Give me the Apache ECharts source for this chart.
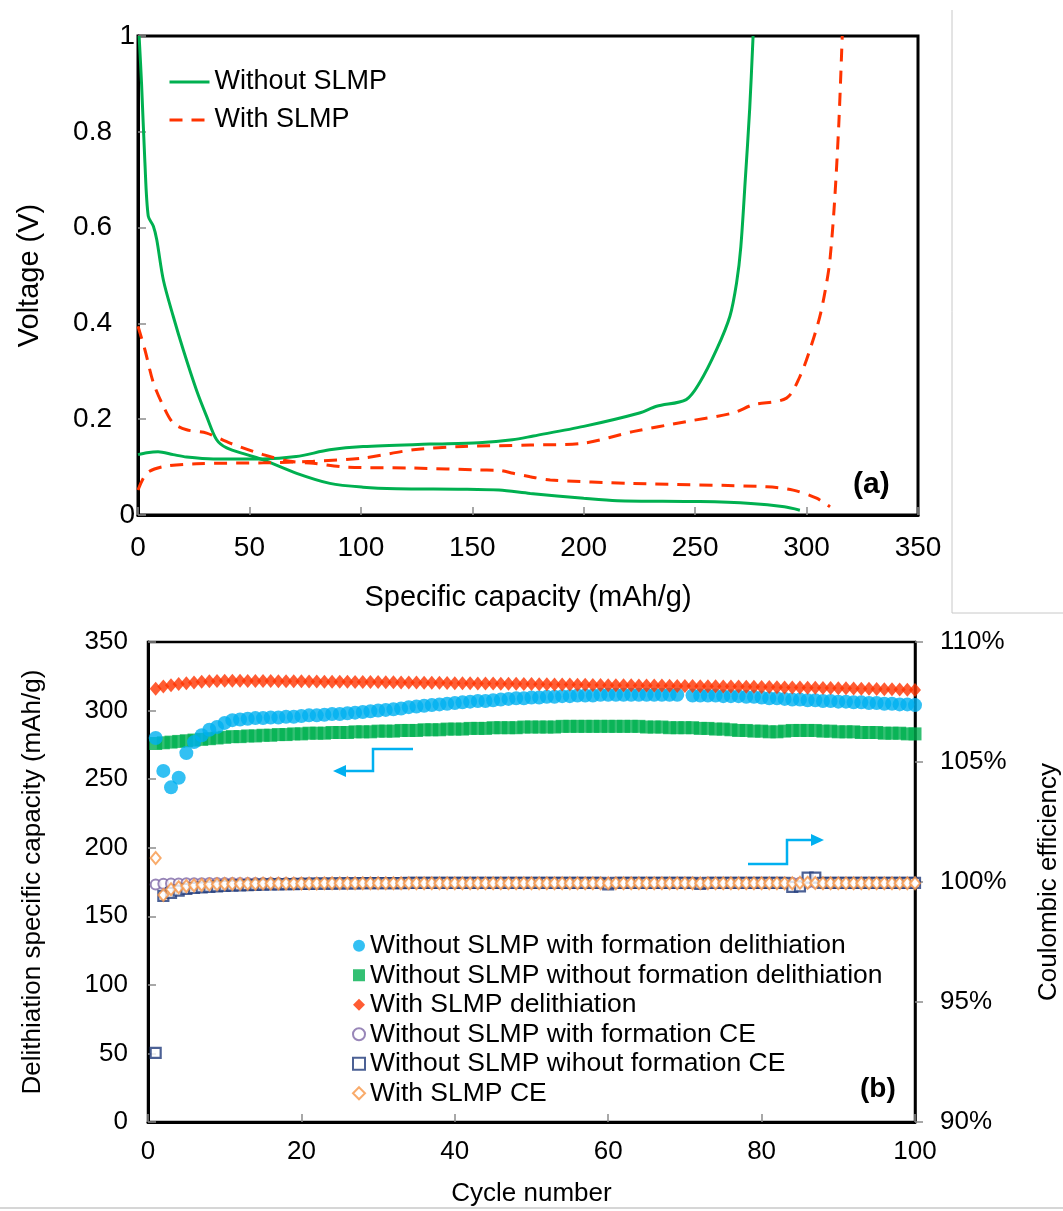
<!DOCTYPE html>
<html>
<head>
<meta charset="utf-8">
<script src="https://cdn.jsdelivr.net/npm/echarts@6/dist/echarts.min.js"></script>
<style>
html, body { margin: 0; padding: 0; background: #fff; }
#chart { width: 1063px; height: 1211px; }
</style>
</head>
<body>
<div id="chart"></div>
<script>
// (a) voltage profiles, capacity in mAh/g and voltage in V
const noSlmpLithCap = [0.5, 1.6, 3.1, 4.6, 6.9, 8.4, 11.4, 15.8, 20.3, 26.3, 30.8, 35.3, 39.8, 48.8, 56.2, 71.2, 86.1, 101, 116, 146, 162, 176, 200, 215, 252, 275, 290, 297]
const noSlmpLithV = [1, 0.9, 0.736, 0.624, 0.603, 0.575, 0.49, 0.415, 0.345, 0.26, 0.206, 0.157, 0.14, 0.126, 0.115, 0.087, 0.066, 0.058, 0.055, 0.054, 0.052, 0.045, 0.035, 0.030, 0.028, 0.024, 0.017, 0.010]
const noSlmpDelithCap = [0, 4, 9, 15.8, 21.8, 33.8, 56, 71, 86, 101, 131, 153, 168, 177.4, 200, 225, 232.7, 246, 252, 259.6, 265.6, 268.6, 270.5, 272.5, 274.5, 276]
const noSlmpDelithV = [0.126, 0.13, 0.132, 0.126, 0.121, 0.117, 0.117, 0.122, 0.136, 0.143, 0.148, 0.151, 0.157, 0.165, 0.185, 0.213, 0.227, 0.241, 0.276, 0.345, 0.415, 0.485, 0.56, 0.7, 0.85, 1]
const slmpLithCap = [0, 3.1, 6.9, 11.4, 15.8, 21.8, 30.8, 41.3, 56.2, 68.2, 78.7, 93.6, 123.5, 153.5, 162.4, 168.4, 176, 185, 222, 282, 294, 304.5, 310.5]
const slmpLithV = [0.394, 0.345, 0.276, 0.227, 0.192, 0.178, 0.171, 0.15, 0.126, 0.112, 0.108, 0.1, 0.098, 0.094, 0.093, 0.087, 0.08, 0.073, 0.066, 0.059, 0.052, 0.035, 0.017]
const slmpDelithCap = [0, 3.9, 11.4, 26.3, 56.2, 78.7, 101, 123.5, 146, 176, 200, 222, 246, 267, 276, 291, 297, 301.5, 306, 309, 310.5, 312.5, 314.5, 316]
const slmpDelithV = [0.052, 0.087, 0.101, 0.107, 0.109, 0.112, 0.119, 0.136, 0.143, 0.146, 0.15, 0.174, 0.195, 0.213, 0.23, 0.244, 0.289, 0.345, 0.415, 0.485, 0.533, 0.65, 0.82, 1]
// voltage labels that sit right against the axis in the original
const edgeVoltLabels = [0, 1]

// (b) cycling, capacity in mAh/g, CE in %
const cycles = Array.from({ length: 100 }, (_, i) => i + 1)
const noSlmpFormDelith = [
    280, 256, 244, 251, 269, 277, 282, 286, 288, 291,
    293, 293.5, 294, 294.5, 294.5, 295, 295, 295.5, 295.5, 296,
    296.5, 296.5, 297, 297.5, 297.5, 298, 298.5, 299, 299.5, 300,
    300.5, 301, 301.5, 302.5, 303, 303.5, 304, 304.5, 305, 305.5,
    306, 306.5, 307, 307, 307.5, 308, 308.5, 309, 309, 309.5,
    309.5, 310, 310, 310.5, 310.5, 311, 311, 311, 311.5, 311.5,
    311.5, 311.5, 311.5, 311.5, 311.5, 311.5, 311.5, 311.5, 311.5, null,
    311, 311, 311, 311, 310.5, 310.5, 310.5, 310, 310, 309.5,
    309, 309, 308.5, 308, 308, 307.5, 307.5, 307, 307, 306.5,
    306.5, 306, 306, 305.5, 305.5, 305, 305, 304.5, 304.5, 304
]
const noSlmpNoFormDelith = [
    276, 276.5, 277, 277.5, 278, 278.5, 279, 279.5, 280, 280.5,
    281, 281, 281.5, 281.5, 282, 282, 282.5, 282.5, 283, 283,
    283.5, 283.5, 283.5, 284, 284, 284, 284.5, 284.5, 284.5, 285,
    285, 285, 285.5, 285.5, 285.5, 286, 286, 286, 286.5, 286.5,
    286.5, 287, 287, 287, 287.5, 287.5, 287.5, 287.5, 288, 288,
    288, 288, 288, 288.5, 288.5, 288.5, 288.5, 288.5, 288.5, 288.5,
    288.5, 288.5, 288.5, 288.5, 288, 288, 288, 287.5, 287.5, 287.5,
    287.5, 287, 287, 286.5, 286.5, 286, 285.5, 285.5, 285, 285,
    284.5, 284.5, 285, 285.5, 285.5, 285.5, 285.5, 285, 285, 284.5,
    284.5, 284.5, 284, 284, 284, 283.5, 283.5, 283.5, 283, 283
]
const slmpDelith = [
    316, 317.5, 318.5, 319.3, 320, 320.5, 321, 321.3, 321.5, 321.7,
    321.7, 321.7, 321.6, 321.6, 321.5, 321.5, 321.4, 321.4, 321.3, 321.3,
    321.2, 321.2, 321.1, 321.1, 321, 321, 320.9, 320.9, 320.8, 320.8,
    320.7, 320.6, 320.5, 320.5, 320.4, 320.3, 320.3, 320.2, 320.1, 320,
    320, 319.9, 319.8, 319.8, 319.7, 319.6, 319.5, 319.5, 319.4, 319.3,
    319.2, 319.2, 319.1, 319, 319, 318.9, 318.8, 318.7, 318.6, 318.5,
    318.5, 318.4, 318.4, 318.3, 318.3, 318.2, 318.2, 318.1, 318, 318,
    317.9, 317.8, 317.8, 317.7, 317.6, 317.5, 317.5, 317.4, 317.3, 317.2,
    317.1, 317, 316.9, 316.8, 316.8, 316.7, 316.6, 316.5, 316.4, 316.3,
    316.2, 316.1, 316, 315.9, 315.8, 315.6, 315.5, 315.4, 315.2, 315
]
const noSlmpFormCE = [
    99.90, 99.93, 99.94, 99.94, 99.95, 99.95, 99.95, 99.96, 99.96, 99.96,
    99.96, 99.96, 99.96, 99.96, 99.96, 99.96, 99.96, 99.96, 99.96, 99.96,
    99.96, 99.96, 99.96, 99.96, 99.96, 99.97, 99.97, 99.97, 99.97, 99.97,
    99.97, 99.97, 99.97, 99.97, 99.97, 99.97, 99.97, 99.97, 99.97, 99.97,
    99.97, 99.97, 99.97, 99.97, 99.97, 99.97, 99.97, 99.97, 99.97, 99.97,
    99.97, 99.97, 99.97, 99.97, 99.97, 99.97, 99.97, 99.97, 99.97, 99.97,
    99.97, 99.97, 99.97, 99.97, 99.97, 99.97, 99.97, 99.97, 99.97, 99.97,
    99.97, 99.97, 99.97, 99.97, 99.97, 99.97, 99.97, 99.97, 99.97, 99.97,
    99.97, 99.97, 99.97, 99.97, 99.97, 99.97, 99.97, 99.97, 99.97, 99.97,
    99.97, 99.97, 99.97, 99.97, 99.97, 99.97, 99.97, 99.97, 99.97, 99.97
]
const noSlmpNoFormCE = [
    92.88, 99.42, 99.55, 99.64, 99.71, 99.75, 99.78, 99.80, 99.82, 99.84,
    99.85, 99.86, 99.87, 99.88, 99.89, 99.90, 99.90, 99.91, 99.91, 99.92,
    99.92, 99.93, 99.93, 99.93, 99.94, 99.94, 99.94, 99.95, 99.95, 99.95,
    99.95, 99.95, 99.95, 99.96, 99.96, 99.96, 99.96, 99.96, 99.96, 99.96,
    99.96, 99.96, 99.96, 99.96, 99.96, 99.96, 99.96, 99.96, 99.96, 99.96,
    99.96, 99.96, 99.96, 99.96, 99.96, 99.96, 99.96, 99.96, 99.96, 99.90,
    99.96, 99.96, 99.96, 99.96, 99.96, 99.96, 99.96, 99.96, 99.96, 99.96,
    99.96, 99.92, 99.96, 99.96, 99.96, 99.96, 99.96, 99.96, 99.96, 99.96,
    99.96, 99.96, 99.96, 99.80, 99.82, 100.18, 100.18, 99.96, 99.96, 99.96,
    99.96, 99.96, 99.96, 99.96, 99.96, 99.96, 99.96, 99.96, 99.96, 99.96
]
const slmpCE = [
    101.0, 99.46, 99.70, 99.78, 99.83, 99.86, 99.88, 99.90, 99.91, 99.92,
    99.92, 99.93, 99.93, 99.93, 99.94, 99.94, 99.94, 99.94, 99.94, 99.94,
    99.94, 99.94, 99.95, 99.95, 99.95, 99.95, 99.95, 99.95, 99.95, 99.95,
    99.95, 99.95, 99.95, 99.95, 99.95, 99.95, 99.95, 99.95, 99.95, 99.95,
    99.95, 99.95, 99.95, 99.95, 99.95, 99.95, 99.95, 99.95, 99.95, 99.95,
    99.95, 99.95, 99.95, 99.95, 99.95, 99.95, 99.95, 99.95, 99.95, 99.95,
    99.95, 99.95, 99.95, 99.95, 99.95, 99.95, 99.95, 99.95, 99.95, 99.95,
    99.95, 99.95, 99.95, 99.95, 99.95, 99.95, 99.95, 99.95, 99.95, 99.95,
    99.95, 99.95, 99.95, 99.95, 99.97, 99.97, 99.96, 99.95, 99.95, 99.95,
    99.95, 99.95, 99.95, 99.95, 99.95, 99.95, 99.95, 99.95, 99.95, 99.95
]

const FONT = "'Liberation Sans', Arial, sans-serif"
const GREEN = '#00B050'
const RED = '#FF3300'
const BLUE = '#00B0F0'

function pairs(xs, ys) {
    return xs.map((x, i) => [x, ys[i]])
}
function byCycle(values) {
    return cycles.map((c, i) => [c, values[i]])
}

const chart = echarts.init(document.getElementById('chart'), null, { renderer: 'canvas' })

const tickStyle = { show: true, inside: true, length: 8, lineStyle: { color: '#8c8c8c', width: 1.5 } }
const labelStyle = { color: '#000', fontFamily: FONT }

const option = {
    animation: false,
    backgroundColor: '#fff',
    textStyle: { fontFamily: FONT },
    grid: [
        { left: 138, top: 36, width: 780, height: 479, show: true, borderColor: '#000', borderWidth: 3, backgroundColor: 'transparent', outerBoundsMode: 'none', containLabel: false },
        { left: 148, top: 642, width: 767, height: 480, show: true, borderColor: '#000', borderWidth: 2.5, backgroundColor: 'transparent', outerBoundsMode: 'none', containLabel: false }
    ],
    xAxis: [
        {
            type: 'value', gridIndex: 0, min: 0, max: 350, interval: 50,
            axisLine: { show: true, lineStyle: { color: '#000', width: 3 } },
            axisTick: tickStyle, splitLine: { show: false },
            axisLabel: { ...labelStyle, fontSize: 28, margin: 19 },
            name: 'Specific capacity (mAh/g)', nameLocation: 'middle', nameGap: 68,
            nameTextStyle: { ...labelStyle, fontSize: 29 }
        },
        {
            type: 'value', gridIndex: 1, min: 0, max: 100, interval: 20,
            axisLine: { show: true, lineStyle: { color: '#000', width: 3 } },
            axisTick: tickStyle, splitLine: { show: false },
            axisLabel: { ...labelStyle, fontSize: 26, margin: 17 },
            name: 'Cycle number', nameLocation: 'middle', nameGap: 59,
            nameTextStyle: { ...labelStyle, fontSize: 26 }
        }
    ],
    yAxis: [
        {
            type: 'value', gridIndex: 0, min: 0, max: 1, interval: 0.2,
            axisLine: { show: true, lineStyle: { color: '#000', width: 3 } },
            axisTick: tickStyle, splitLine: { show: false },
            axisLabel: {
                ...labelStyle, fontSize: 28, margin: 26,
                formatter: v => edgeVoltLabels.includes(v) ? '' : String(v)
            },
            name: 'Voltage (V)', nameLocation: 'middle', nameGap: 94, nameRotate: 90,
            nameTextStyle: { ...labelStyle, fontSize: 29 }
        },
        {
            type: 'value', gridIndex: 1, min: 0, max: 350, interval: 50,
            axisLine: { show: true, lineStyle: { color: '#000', width: 3 } },
            axisTick: tickStyle, splitLine: { show: false },
            axisLabel: { ...labelStyle, fontSize: 26, margin: 20 },
            name: 'Delithiation specific capacity (mAh/g)', nameLocation: 'middle', nameGap: 102, nameRotate: 90,
            nameTextStyle: { ...labelStyle, fontSize: 26 }
        },
        {
            type: 'value', gridIndex: 1, position: 'right', min: 90, max: 110, interval: 5,
            axisLine: { show: true, lineStyle: { color: '#000', width: 2.5 } },
            axisTick: { show: true, inside: false, length: 8, lineStyle: { color: '#8c8c8c', width: 1.5 } },
            splitLine: { show: false },
            axisLabel: { ...labelStyle, fontSize: 26, margin: 25, formatter: '{value}%' },
            name: 'Coulombic efficiency', nameLocation: 'middle', nameGap: 121, nameRotate: 90,
            nameTextStyle: { ...labelStyle, fontSize: 26 }
        },
        {
            // second copy of the voltage scale, only for the 0 and 1 labels
            type: 'value', gridIndex: 0, position: 'left', min: 0, max: 1, interval: 0.2,
            axisLine: { show: false }, axisTick: { show: false }, splitLine: { show: false },
            axisLabel: {
                ...labelStyle, fontSize: 28, margin: 3,
                formatter: v => edgeVoltLabels.includes(v) ? String(v) : ''
            }
        }
    ],
    legend: [
        {
            data: ['Without SLMP', 'With SLMP'],
            orient: 'vertical', left: 163, top: 62, itemWidth: 40, itemHeight: 14, itemGap: 8,
            selectedMode: false,
            itemStyle: { opacity: 0 },
            lineStyle: { width: 3 },
            textStyle: { ...labelStyle, fontSize: 27, lineHeight: 30 }
        },
        {
            data: [
                'Without SLMP with formation delithiation',
                'Without SLMP without formation delithiation',
                'With SLMP delithiation',
                'Without SLMP with formation CE',
                'Without SLMP wihout formation CE',
                'With SLMP CE'
            ],
            orient: 'vertical', left: 347, top: 927, itemWidth: 12, itemHeight: 12, itemGap: 2,
            selectedMode: false,
            textStyle: { ...labelStyle, fontSize: 26.5, lineHeight: 27.5 }
        }
    ],
    series: [
        {
            name: 'Without SLMP', type: 'line', xAxisIndex: 0, yAxisIndex: 0, symbol: 'none', smooth: 0.3,
            lineStyle: { color: GREEN, width: 3 }, itemStyle: { color: GREEN },
            data: pairs(noSlmpLithCap, noSlmpLithV)
        },
        {
            name: 'Without SLMP', type: 'line', xAxisIndex: 0, yAxisIndex: 0, symbol: 'none', smooth: 0.3,
            lineStyle: { color: GREEN, width: 3 }, itemStyle: { color: GREEN },
            data: pairs(noSlmpDelithCap, noSlmpDelithV)
        },
        {
            name: 'With SLMP', type: 'line', xAxisIndex: 0, yAxisIndex: 0, symbol: 'none', smooth: 0.3,
            lineStyle: { color: RED, width: 3, type: [13, 9] }, itemStyle: { color: RED },
            data: pairs(slmpLithCap, slmpLithV)
        },
        {
            name: 'With SLMP', type: 'line', xAxisIndex: 0, yAxisIndex: 0, symbol: 'none', smooth: 0.3,
            lineStyle: { color: RED, width: 3, type: [13, 9] }, itemStyle: { color: RED },
            data: pairs(slmpDelithCap, slmpDelithV)
        },
        {
            name: 'Without SLMP without formation delithiation', type: 'scatter', xAxisIndex: 1, yAxisIndex: 1,
            symbol: 'rect', symbolSize: 13, itemStyle: { color: GREEN },
            data: byCycle(noSlmpNoFormDelith)
        },
        {
            name: 'Without SLMP with formation delithiation', type: 'scatter', xAxisIndex: 1, yAxisIndex: 1,
            symbol: 'circle', symbolSize: 14, itemStyle: { color: BLUE },
            data: byCycle(noSlmpFormDelith)
        },
        {
            name: 'With SLMP delithiation', type: 'scatter', xAxisIndex: 1, yAxisIndex: 1,
            symbol: 'diamond', symbolSize: [12, 14], itemStyle: { color: RED },
            data: byCycle(slmpDelith)
        },
        {
            name: 'Without SLMP with formation CE', type: 'scatter', xAxisIndex: 1, yAxisIndex: 2,
            symbol: 'circle', symbolSize: 10, itemStyle: { color: '#fff', borderColor: '#7E68A6', borderWidth: 2 },
            data: byCycle(noSlmpFormCE)
        },
        {
            name: 'Without SLMP wihout formation CE', type: 'scatter', xAxisIndex: 1, yAxisIndex: 2,
            symbol: 'rect', symbolSize: 10, itemStyle: { color: '#fff', borderColor: '#1F3A7A', borderWidth: 2.2 },
            data: byCycle(noSlmpNoFormCE)
        },
        {
            name: 'With SLMP CE', type: 'scatter', xAxisIndex: 1, yAxisIndex: 2,
            symbol: 'diamond', symbolSize: [10, 12], itemStyle: { color: '#fff', borderColor: '#F79646', borderWidth: 2 },
            data: byCycle(slmpCE)
        }
    ],
    graphic: [
        { type: 'line', shape: { x1: 952, y1: 10, x2: 952, y2: 613 }, style: { stroke: '#c8c8c8', lineWidth: 1 } },
        { type: 'line', shape: { x1: 952, y1: 613, x2: 1063, y2: 613 }, style: { stroke: '#c8c8c8', lineWidth: 1 } },
        { type: 'line', shape: { x1: 0, y1: 1208, x2: 1063, y2: 1208 }, style: { stroke: '#c8c8c8', lineWidth: 1.5 } },
        { type: 'text', left: 853, top: 470, style: { text: '(a)', font: 'bold 30px ' + FONT, fill: '#000' } },
        { type: 'text', left: 860, top: 1075, style: { text: '(b)', font: 'bold 28px ' + FONT, fill: '#000' } },
        { type: 'polyline', shape: { points: [[413, 749], [373, 749], [373, 771], [342, 771]] }, style: { stroke: BLUE, lineWidth: 2.5, fill: null } },
        { type: 'polygon', shape: { points: [[333, 771], [346, 765], [346, 777]] }, style: { fill: BLUE } },
        { type: 'polyline', shape: { points: [[748, 864], [787, 864], [787, 840], [814, 840]] }, style: { stroke: BLUE, lineWidth: 2.5, fill: null } },
        { type: 'polygon', shape: { points: [[824, 840], [811, 834], [811, 846]] }, style: { fill: BLUE } }
    ]
}

chart.setOption(option)
</script>
</body>
</html>
